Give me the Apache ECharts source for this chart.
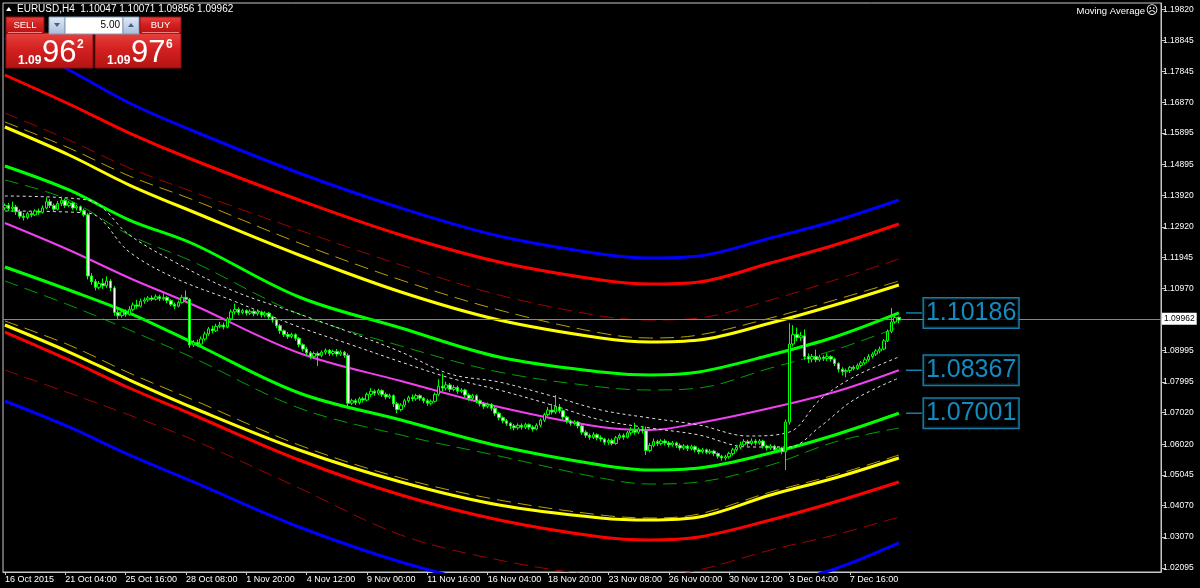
<!DOCTYPE html>
<html><head><meta charset="utf-8">
<script src="https://cdn.jsdelivr.net/npm/echarts@6/dist/echarts.min.js"></script>
<style>html,body{margin:0;padding:0;background:#000;}#c{width:1200px;height:588px;}</style>
</head><body><div id="c"></div>
<script>
// ---------- data ----------
const symbolName = 'EURUSD,H4';
const bid = 1.09962;
const ask = 1.09976;
const lotSize = '5.00';
const Y_MIN = 1.01961, Y_MAX = 1.20027;
const SLOTS = 307;

const xTickIdx = [0,16,32,48,64,80,96,112,128,144,160,176,192,208,224];
const xTickLabels = ['16 Oct 2015','21 Oct 04:00','25 Oct 16:00','28 Oct 08:00','1 Nov 20:00','4 Nov 12:00','9 Nov 00:00','11 Nov 16:00','16 Nov 04:00','18 Nov 20:00','23 Nov 08:00','26 Nov 00:00','30 Nov 12:00','3 Dec 04:00','7 Dec 16:00'];
const yTickValues = [1.19820,1.18845,1.17845,1.16870,1.15895,1.14895,1.13920,1.12920,1.11945,1.10970,1.08995,1.07995,1.07020,1.06020,1.05045,1.04070,1.03070,1.02095];

// candles: [open, close, low, high]
const candles = [
[1.1352,1.1360,1.1345,1.1366],[1.1360,1.1350,1.1342,1.1368],[1.1350,1.1355,1.1340,1.1372],[1.1355,1.1340,1.1330,1.1362],
[1.1340,1.1326,1.1318,1.1348],[1.1326,1.1322,1.1312,1.1336],[1.1322,1.1334,1.1316,1.1340],[1.1334,1.1330,1.1322,1.1342],
[1.1330,1.1342,1.1326,1.1348],[1.1342,1.1338,1.1330,1.1350],[1.1338,1.1352,1.1334,1.1360],[1.1352,1.1372,1.1348,1.1386],
[1.1372,1.1360,1.1352,1.1380],[1.1360,1.1348,1.1340,1.1366],[1.1348,1.1366,1.1344,1.1374],[1.1366,1.1376,1.1358,1.1388],
[1.1376,1.1360,1.1352,1.1382],[1.1360,1.1368,1.1354,1.1374],[1.1368,1.1352,1.1346,1.1372],[1.1352,1.1356,1.1344,1.1362],
[1.1356,1.1344,1.1338,1.1360],[1.1344,1.1330,1.1324,1.1350],[1.1330,1.1136,1.1125,1.1336],[1.1136,1.1118,1.1108,1.1145],
[1.1118,1.1100,1.1090,1.1126],[1.1100,1.1112,1.1094,1.1120],[1.1112,1.1105,1.1095,1.1128],[1.1105,1.1120,1.1098,1.1135],
[1.1120,1.1098,1.1088,1.1126],[1.1098,1.1020,1.1010,1.1104],[1.1020,1.1010,1.1000,1.1030],[1.1010,1.1022,1.1004,1.1028],
[1.1022,1.1014,1.1006,1.1030],[1.1014,1.1030,1.1010,1.1040],[1.1030,1.1044,1.1024,1.1052],[1.1044,1.1040,1.1032,1.1060],
[1.1040,1.1056,1.1036,1.1064],[1.1056,1.1060,1.1048,1.1068],[1.1060,1.1066,1.1054,1.1072],[1.1066,1.1062,1.1056,1.1074],
[1.1062,1.1070,1.1058,1.1078],[1.1070,1.1064,1.1056,1.1076],[1.1064,1.1068,1.1058,1.1080],[1.1068,1.1058,1.1050,1.1072],
[1.1058,1.1046,1.1040,1.1062],[1.1046,1.1040,1.1030,1.1052],[1.1040,1.1052,1.1036,1.1058],[1.1052,1.1068,1.1048,1.1076],
[1.1068,1.1062,1.1056,1.1090],[1.1062,1.0917,1.0908,1.1066],[1.0917,1.0925,1.0910,1.0932],[1.0925,1.0920,1.0912,1.0934],
[1.0920,1.0936,1.0916,1.0944],[1.0936,1.0952,1.0930,1.0960],[1.0952,1.0968,1.0946,1.0974],[1.0968,1.0962,1.0954,1.0978],
[1.0962,1.0976,1.0958,1.0984],[1.0976,1.0980,1.0970,1.0990],[1.0980,1.0974,1.0966,1.0988],[1.0974,1.1000,1.0970,1.1006],
[1.1000,1.1022,1.0994,1.1030],[1.1022,1.1030,1.1014,1.1048],[1.1030,1.1020,1.1012,1.1036],[1.1020,1.1026,1.1014,1.1032],
[1.1026,1.1018,1.1010,1.1030],[1.1018,1.1024,1.1012,1.1030],[1.1024,1.1016,1.1008,1.1028],[1.1016,1.1022,1.1010,1.1030],
[1.1022,1.1012,1.1004,1.1026],[1.1012,1.1018,1.1006,1.1024],[1.1018,1.1006,1.0998,1.1022],[1.1006,1.0996,1.0988,1.1010],
[1.0996,1.0978,1.0970,1.1000],[1.0978,1.0962,1.0952,1.0984],[1.0962,1.0950,1.0942,1.0966],[1.0950,1.0944,1.0936,1.0958],
[1.0944,1.0950,1.0938,1.0956],[1.0950,1.0938,1.0930,1.0954],[1.0938,1.0918,1.0910,1.0942],[1.0918,1.0904,1.0896,1.0922],
[1.0904,1.0892,1.0884,1.0910],[1.0892,1.0880,1.0872,1.0898],[1.0880,1.0890,1.0874,1.0896],[1.0890,1.0884,1.0850,1.0896],
[1.0884,1.0894,1.0878,1.0900],[1.0894,1.0900,1.0886,1.0906],[1.0900,1.0890,1.0882,1.0904],[1.0890,1.0896,1.0884,1.0902],
[1.0896,1.0888,1.0880,1.0904],[1.0888,1.0894,1.0882,1.0900],[1.0894,1.0884,1.0876,1.0898],[1.0884,1.0732,1.0720,1.0890],
[1.0732,1.0740,1.0726,1.0746],[1.0740,1.0734,1.0726,1.0746],[1.0734,1.0746,1.0728,1.0752],[1.0746,1.0742,1.0734,1.0752],
[1.0742,1.0760,1.0738,1.0766],[1.0760,1.0770,1.0752,1.0780],[1.0770,1.0764,1.0756,1.0776],[1.0764,1.0772,1.0758,1.0778],
[1.0772,1.0760,1.0752,1.0776],[1.0760,1.0752,1.0744,1.0766],[1.0752,1.0756,1.0746,1.0762],[1.0756,1.0730,1.0720,1.0760],
[1.0730,1.0712,1.0700,1.0736],[1.0712,1.0726,1.0706,1.0732],[1.0726,1.0740,1.0720,1.0746],[1.0740,1.0750,1.0734,1.0756],
[1.0750,1.0746,1.0738,1.0760],[1.0746,1.0756,1.0740,1.0762],[1.0756,1.0748,1.0740,1.0760],[1.0748,1.0740,1.0732,1.0752],
[1.0740,1.0732,1.0724,1.0746],[1.0732,1.0738,1.0726,1.0744],[1.0738,1.0760,1.0734,1.0766],[1.0760,1.0786,1.0754,1.0808],
[1.0786,1.0780,1.0770,1.0826],[1.0780,1.0790,1.0772,1.0800],[1.0790,1.0776,1.0768,1.0796],[1.0776,1.0782,1.0770,1.0790],
[1.0782,1.0770,1.0762,1.0788],[1.0770,1.0774,1.0764,1.0780],[1.0774,1.0758,1.0750,1.0778],[1.0758,1.0748,1.0740,1.0764],
[1.0748,1.0756,1.0742,1.0762],[1.0756,1.0740,1.0732,1.0760],[1.0740,1.0730,1.0722,1.0744],[1.0730,1.0722,1.0714,1.0736],
[1.0722,1.0728,1.0716,1.0734],[1.0728,1.0716,1.0708,1.0732],[1.0716,1.0700,1.0692,1.0720],[1.0700,1.0686,1.0678,1.0704],
[1.0686,1.0676,1.0668,1.0690],[1.0676,1.0668,1.0660,1.0682],[1.0668,1.0660,1.0650,1.0672],[1.0660,1.0654,1.0646,1.0666],
[1.0654,1.0662,1.0648,1.0668],[1.0662,1.0656,1.0648,1.0668],[1.0656,1.0664,1.0650,1.0670],[1.0664,1.0656,1.0648,1.0668],
[1.0656,1.0650,1.0642,1.0662],[1.0650,1.0662,1.0646,1.0668],[1.0662,1.0678,1.0656,1.0684],[1.0678,1.0696,1.0672,1.0702],
[1.0696,1.0710,1.0690,1.0720],[1.0710,1.0704,1.0696,1.0730],[1.0704,1.0720,1.0698,1.0758],[1.0720,1.0708,1.0700,1.0730],
[1.0708,1.0688,1.0680,1.0712],[1.0688,1.0676,1.0668,1.0692],[1.0676,1.0668,1.0660,1.0680],[1.0668,1.0672,1.0662,1.0678],
[1.0672,1.0660,1.0652,1.0676],[1.0660,1.0640,1.0632,1.0664],[1.0640,1.0630,1.0622,1.0646],[1.0630,1.0624,1.0616,1.0636],
[1.0624,1.0632,1.0618,1.0640],[1.0632,1.0622,1.0614,1.0636],[1.0622,1.0618,1.0610,1.0630],[1.0618,1.0608,1.0600,1.0622],
[1.0608,1.0614,1.0600,1.0620],[1.0614,1.0604,1.0598,1.0620],[1.0604,1.0622,1.0600,1.0628],[1.0622,1.0630,1.0616,1.0636],
[1.0630,1.0624,1.0616,1.0636],[1.0624,1.0638,1.0620,1.0644],[1.0638,1.0646,1.0630,1.0656],[1.0646,1.0640,1.0632,1.0670],
[1.0640,1.0650,1.0634,1.0656],[1.0650,1.0644,1.0636,1.0660],[1.0644,1.0582,1.0568,1.0658],[1.0582,1.0598,1.0576,1.0606],
[1.0598,1.0610,1.0592,1.0620],[1.0610,1.0604,1.0596,1.0616],[1.0604,1.0612,1.0598,1.0618],[1.0612,1.0606,1.0598,1.0618],
[1.0606,1.0600,1.0592,1.0612],[1.0600,1.0606,1.0594,1.0612],[1.0606,1.0598,1.0590,1.0610],[1.0598,1.0590,1.0582,1.0604],
[1.0590,1.0596,1.0584,1.0602],[1.0596,1.0588,1.0580,1.0600],[1.0588,1.0594,1.0582,1.0600],[1.0594,1.0584,1.0576,1.0598],
[1.0584,1.0578,1.0570,1.0590],[1.0578,1.0584,1.0572,1.0590],[1.0584,1.0576,1.0570,1.0588],[1.0576,1.0580,1.0570,1.0586],
[1.0580,1.0572,1.0564,1.0584],[1.0572,1.0564,1.0556,1.0576],[1.0564,1.0558,1.0550,1.0568],[1.0558,1.0562,1.0550,1.0568],
[1.0562,1.0572,1.0556,1.0578],[1.0572,1.0584,1.0566,1.0590],[1.0584,1.0592,1.0578,1.0600],[1.0592,1.0600,1.0586,1.0610],
[1.0600,1.0610,1.0594,1.0618],[1.0610,1.0604,1.0596,1.0616],[1.0604,1.0612,1.0598,1.0620],[1.0612,1.0606,1.0598,1.0618],
[1.0606,1.0612,1.0600,1.0618],[1.0612,1.0596,1.0588,1.0616],[1.0596,1.0590,1.0582,1.0600],[1.0590,1.0596,1.0584,1.0602],
[1.0596,1.0584,1.0576,1.0600],[1.0584,1.0590,1.0578,1.0596],[1.0590,1.0578,1.0570,1.0594],[1.0578,1.0672,1.0520,1.0680],
[1.0672,1.0920,1.0664,1.0986],[1.0920,1.0950,1.0912,1.0980],[1.0950,1.0940,1.0930,1.0972],[1.0940,1.0946,1.0930,1.0958],
[1.0946,1.0880,1.0870,1.0966],[1.0880,1.0872,1.0860,1.0890],[1.0872,1.0880,1.0862,1.0888],[1.0880,1.0870,1.0862,1.0902],
[1.0870,1.0878,1.0864,1.0886],[1.0878,1.0874,1.0866,1.0884],[1.0874,1.0880,1.0866,1.0890],[1.0880,1.0872,1.0864,1.0884],
[1.0872,1.0858,1.0850,1.0876],[1.0858,1.0840,1.0830,1.0862],[1.0840,1.0832,1.0820,1.0846],[1.0832,1.0836,1.0814,1.0842],
[1.0836,1.0846,1.0828,1.0850],[1.0846,1.0842,1.0836,1.0852],[1.0842,1.0852,1.0838,1.0858],[1.0852,1.0860,1.0846,1.0866],
[1.0860,1.0870,1.0854,1.0878],[1.0870,1.0880,1.0864,1.0888],[1.0880,1.0888,1.0874,1.0894],[1.0888,1.0898,1.0882,1.0904],
[1.0898,1.0904,1.0890,1.0912],[1.0904,1.0930,1.0900,1.0936],[1.0930,1.0960,1.0926,1.0966],[1.0960,1.0990,1.0954,1.1034],
[1.0990,1.1004,1.0984,1.1016],[1.10047,1.09962,1.09856,1.10071]
];

// band lines, sampled at these bar indices
const bandIdx = [0,17,33,50,78,105,131,158,171,184,203,220,237];
const blueUpper   = [1.18916,1.17900,1.16852,1.15963,1.14629,1.13518,1.12629,1.12058,1.11931,1.11994,1.12566,1.13105,1.13772];
const redUpper    = [1.17741,1.16820,1.15899,1.15042,1.13772,1.12661,1.11804,1.11232,1.11105,1.11169,1.11772,1.12343,1.13010];
const redDashUp   = [1.16534,1.15677,1.14788,1.14026,1.12820,1.11708,1.10756,1.10089,1.09962,1.10026,1.10597,1.11232,1.11899];
const yelDashUp   = [1.16249,1.15423,1.14534,1.13772,1.12407,1.11232,1.10280,1.09549,1.09391,1.09486,1.10026,1.10597,1.11200];
const yellowUpper = [1.16090,1.15201,1.14248,1.13391,1.12026,1.10851,1.09962,1.09391,1.09264,1.09327,1.09867,1.10438,1.11073];
const greenUpper  = [1.14852,1.14090,1.13137,1.12375,1.10692,1.09708,1.08787,1.08311,1.08216,1.08311,1.08851,1.09422,1.10186];
const grnDashUp   = [1.14407,1.13772,1.12661,1.11804,1.10153,1.09137,1.08311,1.07835,1.07740,1.07803,1.08438,1.09010,1.09740];
const magentaMid  = [1.13042,1.12185,1.11296,1.10438,1.08914,1.08025,1.07200,1.06565,1.06470,1.06692,1.07168,1.07676,1.08367];
const greenLower  = [1.11645,1.10915,1.10184,1.09232,1.07644,1.06787,1.05962,1.05358,1.05200,1.05263,1.05739,1.06311,1.07001];
const grnDashLow  = [1.11200,1.10438,1.09645,1.08756,1.07168,1.06311,1.05644,1.04946,1.04755,1.04819,1.05358,1.06089,1.06533];
const yelDashLow  = [1.09930,1.09168,1.08279,1.07422,1.05993,1.04946,1.04247,1.03771,1.03676,1.03803,1.04501,1.05041,1.05676];
const yellowLower = [1.09803,1.08946,1.08057,1.07168,1.05835,1.04819,1.04088,1.03676,1.03612,1.03707,1.04406,1.04946,1.05581];
const redLower    = [1.09581,1.08692,1.07803,1.06946,1.05517,1.04406,1.03612,1.03072,1.02977,1.03072,1.03612,1.04184,1.04819];
const redDashLow  = [1.08375,1.07644,1.06946,1.06152,1.04628,1.03136,1.02342,1.01834,1.01771,1.02025,1.02660,1.03136,1.03707];
const blueLower   = [1.07390,1.06565,1.05676,1.04819,1.03390,1.02279,1.01485,1.00945,1.00850,1.00945,1.01485,1.02056,1.02882];

// two dotted moving averages
const maIdx = [0,22,33,45,60,78,92,105,118,131,145,158,171,184,197,208,216,225,237];
const maFast = [1.13899,1.13772,1.12661,1.11804,1.10914,1.10153,1.09549,1.08946,1.08248,1.07994,1.07549,1.07105,1.06851,1.06628,1.06279,1.06406,1.07422,1.08152,1.08787];
const maSlow = [1.13423,1.13359,1.12121,1.11296,1.10597,1.09740,1.09168,1.08629,1.08121,1.07740,1.07263,1.06787,1.06533,1.06311,1.05930,1.05930,1.06565,1.07422,1.08121];

// price tags at the right of the last bar
const tagIdx = 241;
const tagValues = [1.10186, 1.08367, 1.07001];

// ---------- chart ----------
const FONT = '"Liberation Sans", Arial, sans-serif';
const categories = Array.from({length: SLOTS}, (_, i) => String(i));
const pairs = (idx, vals) => idx.map((i, k) => [i, vals[k]]);

const bandStyles = [
  [blueUpper,   '#0000FF', 3, 'solid'],
  [redUpper,    '#FF0000', 3, 'solid'],
  [redDashUp,   '#A00000', 1, [14, 7]],
  [yelDashUp,   '#B8A200', 1, [14, 7]],
  [yellowUpper, '#FFFF00', 3, 'solid'],
  [greenUpper,  '#00FF00', 3, 'solid'],
  [grnDashUp,   '#00A000', 1, [14, 7]],
  [magentaMid,  '#F040F0', 2, 'solid'],
  [greenLower,  '#00FF00', 3, 'solid'],
  [grnDashLow,  '#00A000', 1, [14, 7]],
  [yelDashLow,  '#B8A200', 1, [14, 7]],
  [yellowLower, '#FFFF00', 3, 'solid'],
  [redLower,    '#FF0000', 3, 'solid'],
  [redDashLow,  '#A00000', 1, [14, 7]],
  [blueLower,   '#0000FF', 3, 'solid']
];

const series = bandStyles.map(([vals, color, width, type]) => ({
  type: 'line', data: pairs(bandIdx, vals), smooth: 0.35, symbol: 'none',
  lineStyle: { color, width, type }, silent: true, z: 2, animation: false
}));
[maFast, maSlow].forEach(vals => series.push({
  type: 'line', data: pairs(maIdx, vals), smooth: 0.35, symbol: 'none',
  lineStyle: { color: '#E0E0E0', width: 1, type: [3, 3] }, silent: true, z: 3, animation: false
}));

series.push({
  type: 'candlestick', data: candles, barWidth: 3, z: 5, animation: false, silent: true,
  itemStyle: { color: '#000000', color0: '#FFFFFF', borderColor: '#00FF00', borderColor0: '#00FF00', borderWidth: 1 },
  markLine: {
    silent: true, symbol: ['none', 'none'], animation: false,
    lineStyle: { color: '#778899', width: 1, type: 'solid' },
    label: { show: true, position: 'end', distance: 1, formatter: () => bid.toFixed(5),
      backgroundColor: '#FFFFFF', color: '#000000', fontSize: 8.5, fontFamily: FONT, padding: [2, 2, 1, 2] },
    data: [{ yAxis: bid }]
  }
});

series.push({
  type: 'scatter', data: tagValues.map(v => [tagIdx, v]), symbol: 'rect', symbolSize: [16, 1.5],
  itemStyle: { color: '#1A9FD6' }, z: 6, silent: true, animation: false,
  label: { show: true, position: 'right', distance: 2, formatter: p => p.value[1].toFixed(5),
    color: '#18AEF0', fontSize: 25, fontFamily: FONT, backgroundColor: '#000000',
    borderColor: '#1C9AD0', borderWidth: 1.5, padding: [3, 2, 1, 2] }
});

const last = candles[candles.length - 1];
const header = symbolName + '  ' + [last[0], last[3], last[2], last[1]].map(v => v.toFixed(5)).join(' ');
const splitPrice = p => { const s = p.toFixed(5); return [s.slice(0, 4), s.slice(4, 6), s.slice(6)]; };
const bidParts = splitPrice(bid), askParts = splitPrice(ask);

const redFill = { type: 'linear', x: 0, y: 0, x2: 0, y2: 1,
  colorStops: [{ offset: 0, color: '#E8433E' }, { offset: 0.45, color: '#D42121' }, { offset: 1, color: '#B41313' }] };
const blueFill = { type: 'linear', x: 0, y: 0, x2: 0, y2: 1,
  colorStops: [{ offset: 0, color: '#E3ECF8' }, { offset: 1, color: '#A7BCDB' }] };
const txt = (x, y, text, size, extra) => Object.assign({ type: 'text', x, y, z: 100,
  style: Object.assign({ text, fill: '#FFFFFF', font: size + 'px ' + FONT, textVerticalAlign: 'middle' }, extra || {}) });

const graphic = [
  { type: 'polygon', z: 100, shape: { points: [[6, 11], [11.5, 11], [8.75, 7]] }, style: { fill: '#FFFFFF' } },
  txt(17, 9, header, 10),
  { type: 'rect', z: 99, shape: { x: 6, y: 33, width: 87, height: 35 }, style: { fill: redFill, stroke: '#8A0E0E', lineWidth: 1 } },
  { type: 'rect', z: 99, shape: { x: 95, y: 33, width: 86, height: 35 }, style: { fill: redFill, stroke: '#8A0E0E', lineWidth: 1 } },
  { type: 'rect', z: 99, shape: { x: 6, y: 17, width: 38, height: 16 }, style: { fill: redFill, stroke: '#8A0E0E', lineWidth: 1 } },
  { type: 'rect', z: 99, shape: { x: 140, y: 17, width: 41, height: 16 }, style: { fill: redFill, stroke: '#8A0E0E', lineWidth: 1 } },
  { type: 'line', z: 100, shape: { x1: 8, y1: 32.5, x2: 42, y2: 32.5 }, style: { stroke: '#F08080', lineWidth: 1 } },
  { type: 'line', z: 100, shape: { x1: 142, y1: 32.5, x2: 179, y2: 32.5 }, style: { stroke: '#F08080', lineWidth: 1 } },
  txt(25, 25.5, 'SELL', 9.5, { textAlign: 'center' }),
  txt(160.5, 25.5, 'BUY', 9.5, { textAlign: 'center' }),
  { type: 'rect', z: 99, shape: { x: 49, y: 17, width: 16, height: 17 }, style: { fill: blueFill, stroke: '#7F9DB9', lineWidth: 1 } },
  { type: 'rect', z: 99, shape: { x: 65, y: 17, width: 58, height: 17 }, style: { fill: '#FFFFFF', stroke: '#7F9DB9', lineWidth: 1 } },
  { type: 'rect', z: 99, shape: { x: 123, y: 17, width: 16, height: 17 }, style: { fill: blueFill, stroke: '#7F9DB9', lineWidth: 1 } },
  { type: 'polygon', z: 100, shape: { points: [[54, 23], [60, 23], [57, 27]] }, style: { fill: '#4A5E85' } },
  { type: 'polygon', z: 100, shape: { points: [[128, 27], [134, 27], [131, 23]] }, style: { fill: '#4A5E85' } },
  txt(120, 25.5, lotSize, 10, { textAlign: 'right', fill: '#000000' }),
  txt(18, 61, bidParts[0], 12, { font: 'bold 12px ' + FONT }),
  txt(42, 53, bidParts[1], 31, { font: '31px ' + FONT }),
  txt(77, 45, bidParts[2], 12, { font: 'bold 12px ' + FONT }),
  txt(107, 61, askParts[0], 12, { font: 'bold 12px ' + FONT }),
  txt(131, 53, askParts[1], 31, { font: '31px ' + FONT }),
  txt(166, 45, askParts[2], 12, { font: 'bold 12px ' + FONT }),
  txt(1145, 11, 'Moving Average', 9.5, { textAlign: 'right' }),
  txt(1152, 11, '\u2639', 12, { textAlign: 'center', font: '12px "DejaVu Sans"' })
];

const chart = echarts.init(document.getElementById('c'), null, { renderer: 'canvas' });
chart.setOption({
  backgroundColor: '#000000',
  animation: false,
  grid: { left: 3, right: 39, top: 3, bottom: 16, show: true, borderColor: '#C8C8C8', borderWidth: 1, backgroundColor: '#000000' },
  xAxis: {
    type: 'category', data: categories, boundaryGap: true,
    axisLine: { show: true, lineStyle: { color: '#C8C8C8' } },
    axisTick: { show: true, alignWithLabel: true, interval: i => xTickIdx.includes(i), length: 3, lineStyle: { color: '#C8C8C8' } },
    axisLabel: { interval: i => xTickIdx.includes(i), formatter: (v, i) => xTickLabels[xTickIdx.indexOf(i)] || '',
      align: 'left', color: '#FFFFFF', fontSize: 9, fontFamily: FONT, margin: 3 },
    splitLine: { show: false }
  },
  yAxis: {
    type: 'value', position: 'right', min: Y_MIN, max: Y_MAX,
    splitLine: { show: false },
    axisLine: { show: true, lineStyle: { color: '#C8C8C8' } },
    axisTick: { show: true, customValues: yTickValues, length: 4, lineStyle: { color: '#C8C8C8' } },
    axisLabel: { customValues: yTickValues, formatter: v => v.toFixed(5), color: '#FFFFFF', fontSize: 8.5, fontFamily: FONT, margin: 2 }
  },
  series,
  graphic
});
</script></body></html>
